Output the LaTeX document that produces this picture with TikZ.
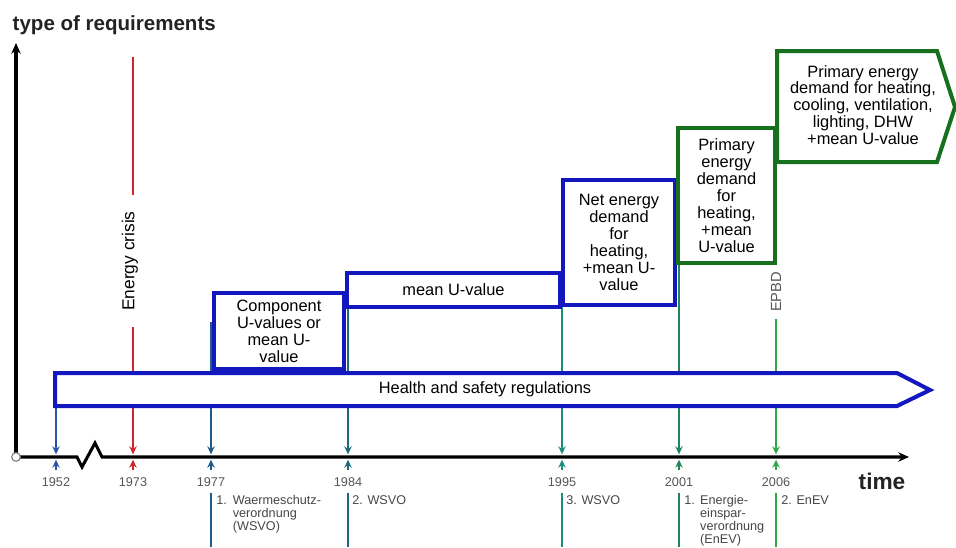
\documentclass[tikz,border=0pt]{standalone}
\usepackage{fontspec}
\setmainfont{Liberation Sans}
\usetikzlibrary{arrows.meta}
\definecolor{reqblue}{RGB}{18,24,190}
\definecolor{reqgreen}{RGB}{22,112,30}
\definecolor{crisisred}{RGB}{210,35,45}
\definecolor{c1952}{RGB}{40,85,170}
\definecolor{c1977}{RGB}{30,90,140}
\definecolor{c1984}{RGB}{30,105,125}
\definecolor{c1995}{RGB}{30,140,125}
\definecolor{c2001}{RGB}{30,135,90}
\definecolor{c2006}{RGB}{45,170,70}
\definecolor{yeargrey}{RGB}{85,85,85}
\definecolor{lawgrey}{RGB}{70,70,70}
\definecolor{titlegrey}{RGB}{35,35,35}
\newcommand{\reqfont}{\fontsize{12.3}{12.7}\selectfont}
\newcommand{\lawfont}{\fontsize{9.5}{9.6}\selectfont}
\begin{document}
\begin{tikzpicture}[x=0.75pt,y=-0.75pt,
  reqbox/.style={draw=reqblue,line width=3pt,fill=white,inner sep=0pt,align=center,font=\reqfont},
  pebox/.style={reqbox,draw=reqgreen},
  yline/.style={line width=1.9pt},
  tiptop/.style={-{Stealth[length=6pt,width=5.5pt]},shorten >=2pt},
  axisline/.style={line width=2.3pt,black},
  yearlabel/.style={font=\lawfont,text=yeargrey},
  lawtext/.style={font=\lawfont,text=lawgrey,anchor=north west,inner sep=0pt,align=left}]
\useasboundingbox (0,0) rectangle (956,547);
\coordinate (o) at (16,457);
\coordinate (ytop) at (16,43);
\coordinate (xend) at (909,457);
\coordinate (bot) at (0,547);
% axes
\draw[axisline,-{Stealth[length=8pt,width=7pt]}] (o) -- (ytop);
\draw[axisline,-{Stealth[length=8pt,width=7pt]}] (o) -- (77,457) -- (82,467) -- (95,443) -- (102,457) -- (xend);
\node[circle,draw=gray,fill=white,line width=0.8pt,inner sep=0pt,minimum size=6.5pt] (orig) at (o) {};
\node[anchor=west,font=\fontsize{15.4}{16}\selectfont\bfseries,text=titlegrey] (ytitle) at (8,25) {type of requirements};
\node[font=\fontsize{17}{18}\selectfont\bfseries,text=titlegrey] (xtitle) at (882,481) {time};
% years
\foreach \yr/\xx/\yt/\col in {1952/56/400/c1952,1973/133/57/crisisred,1977/211/322/c1977,1984/348/308/c1984,1995/562/210/c1995,2001/679/262/c2001,2006/776/319/c2006}{
  \coordinate (t\yr) at (\xx,457);
  \draw[yline,draw=\col,tiptop] (\xx,\yt) -- (t\yr);
  \draw[yline,draw=\col,tiptop] ([yshift=-10pt]t\yr) -- (t\yr);
  \node[yearlabel] (l\yr) at (\xx,482) {\yr};
}
\foreach \yr/\col in {1977/c1977,1984/c1984,1995/c1995,2001/c2001,2006/c2006}
  \draw[yline,draw=\col] ([yshift=-1pt]l\yr.south) -- (l\yr.south |- bot);
\node[rotate=90,fill=white,inner xsep=12pt,inner ysep=1pt,font=\fontsize{13}{13}\selectfont] (crisis) at (130,261) {Energy crisis};
\node[rotate=90,text=yeargrey,font=\fontsize{11}{11}\selectfont] (epbdlabel) at (776,292) {EPBD};
% requirement boxes
\draw[reqbox] (55,373) -- (897,373) -- (930,390) -- (897,406) -- (55,406) -- cycle;
\node[font=\reqfont] (health) at (485,389) {Health and safety regulations};
\node[reqbox,minimum width=97.5pt,minimum height=57pt] (comp) at (279,331) {Component\\U-values or\\mean U-\\value};
\node[reqbox,minimum width=159.75pt,minimum height=25.5pt] (meanu) at (453.5,290) {mean U-value};
\node[reqbox,minimum width=84pt,minimum height=93.75pt] (netheat) at (619,242.5) {Net energy\\demand\\for\\heating,\\+mean U-\\value};
\node[pebox,minimum width=72.75pt,minimum height=101.25pt] (pheat) at (726.5,195.5) {Primary\\energy\\demand\\for\\heating,\\+mean\\U-value};
\draw[pebox] (777,51) -- (937,51) -- (955,107) -- (937,162) -- (777,162) -- cycle;
\node[font=\reqfont,align=center] (pall) at (863,105) {Primary energy\\demand for heating,\\cooling, ventilation,\\lighting, DHW\\+mean U-value};
% regulations
\node[lawtext] (w1977) at (216,495) {\begin{tabular}{@{}l@{\hspace{4.5pt}}l@{}}1.&Waermeschutz-\\&verordnung\\&(WSVO)\end{tabular}};
\node[lawtext] (w1984) at (352,495) {2. WSVO};
\node[lawtext] (w1995) at (566,495) {3. WSVO};
\node[lawtext] (w2001) at (684,495) {\begin{tabular}{@{}l@{\hspace{4pt}}l@{}}1.&Energie-\\&einspar-\\&verordnung\\&(EnEV)\end{tabular}};
\node[lawtext] (w2006) at (781,495) {2. EnEV};
\end{tikzpicture}
\end{document}
